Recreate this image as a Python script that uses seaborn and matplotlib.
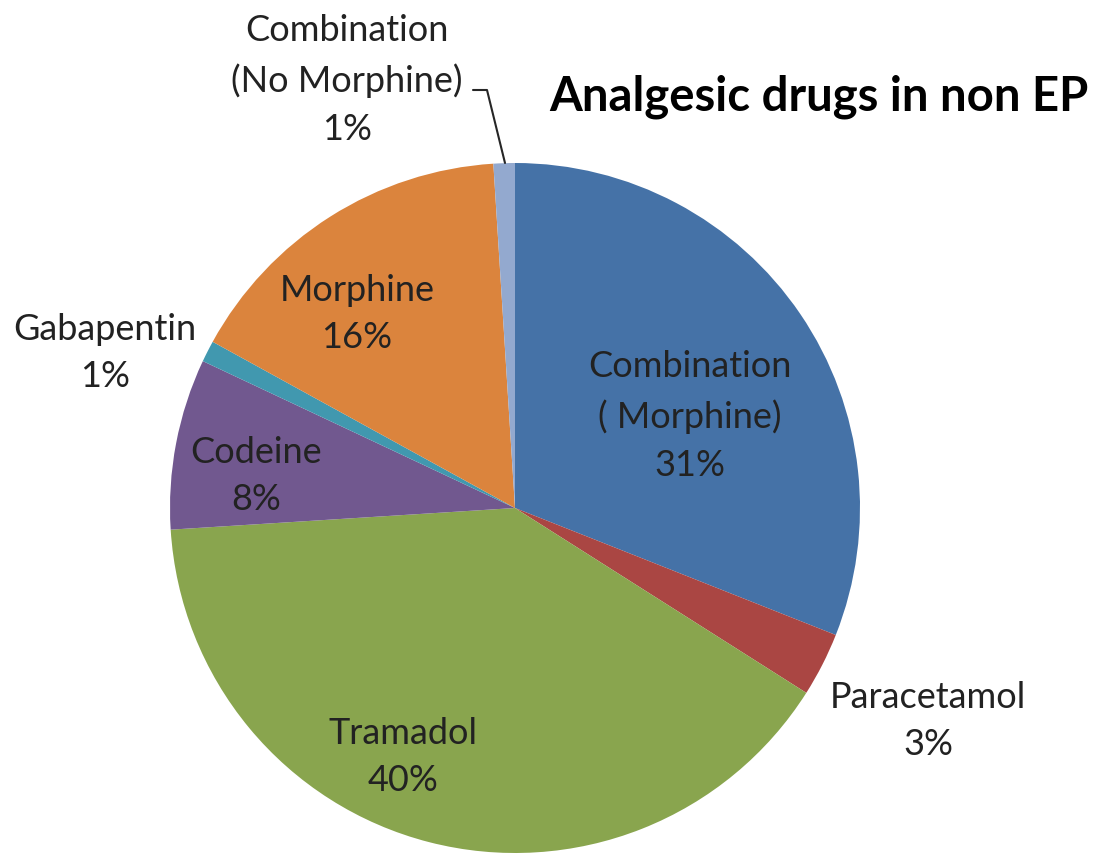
import matplotlib
matplotlib.use("Agg")
import matplotlib.pyplot as plt
import seaborn as sns

sns.set_theme(style="white")
plt.rcParams['font.family'] = ['Lato', 'DejaVu Sans']

categories = ["Combination\n( Morphine)", "Paracetamol", "Tramadol", "Codeine",
              "Gabapentin", "Morphine", "Combination\n(No Morphine)"]
values = [31, 3, 40, 8, 1, 16, 1]
colors = ["#4572A7", "#AA4643", "#89A54E", "#71588F", "#4198AF", "#DB843D", "#93A9CF"]
title = "Analgesic drugs in non EP"

W, H = 1093, 855
fig = plt.figure(figsize=(W / 100, H / 100), dpi=100)
ax = fig.add_axes([0, 0, 1, 1])
cx, cy, R = 515, 508, 345

ax.pie(values, colors=colors, startangle=90, counterclock=False, radius=1,
       wedgeprops=dict(linewidth=0))
ax.set_xlim(-cx / R, (W - cx) / R)
ax.set_ylim(-(H - cy) / R, cy / R)
ax.set_aspect('equal')
ax.axis('off')

def d(px, py):
    return ((px - cx) / R, (cy - py) / R)

# label positions (pixels)
pos = [(690, 416), (928, 721), (403, 757), (256, 476), (105, 353), (357, 314), (347, 80)]
for cat, v, (px, py) in zip(categories, values, pos):
    x, y = d(px, py)
    ax.text(x, y, f"{cat}\n{v}%", ha='center', va='center', fontsize=26,
            color='#222222', linespacing=1.55)

# leader line for small slice
lx, ly = zip(d(473, 90), d(487, 90), d(505, 163))
ax.plot(lx, ly, color='#262626', lw=1.5)

tx, ty = d(819, 97)
ax.text(tx, ty, title, ha='center', va='center', fontsize=34, fontweight='bold', color='black')

fig.savefig("out.png", dpi=100, facecolor='white')
